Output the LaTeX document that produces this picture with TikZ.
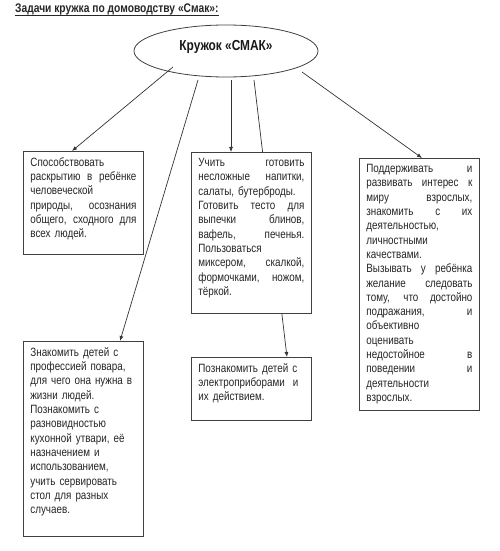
\documentclass[tikz,border=0pt]{standalone}
\usepackage{fontspec}
\setmainfont{Liberation Sans}[FakeStretch=0.82]
\usetikzlibrary{shapes.geometric,arrows.meta,calc,backgrounds}

% one justified line, stretched to the full box width
\newcommand{\jl}[1]{\makebox[\hsize][s]{\spaceskip=0.28em plus 4em #1}}
% empty space under the last line
\newcommand{\tail}[1]{\rule[-#1]{0pt}{#1}}

\tikzset{
  task/.style={draw=black!75, fill=white, line width=0.8bp, anchor=north west,
    text width=106bp, inner xsep=7bp, inner ysep=6bp, align=left,
    text=black!85, font=\fontsize{12bp}{14.3bp}\selectfont},
  link/.style={draw=black!80, line width=0.7bp, -{Latex[length=5bp,width=4bp]}}
}

\begin{document}
\begin{tikzpicture}[x=1bp,y=-1bp]
\useasboundingbox (0,0) rectangle (500,551);

% title
\node[anchor=base west, inner sep=0pt, text=black!85,
  font=\bfseries\fontsize{12.5bp}{14bp}\selectfont] (title) at (15,13)
  {Задачи кружка по домоводству «Смак»:};
\draw[black!85, line width=0.8bp] ($(title.base west)+(0,2)$) -- ($(title.base east)+(0,2)$);

% centre
\node[ellipse, draw=black!75, line width=0.8bp, minimum width=184bp, minimum height=52bp,
  inner sep=0pt, text height=6bp, text depth=6bp, text=black!90,
  font=\bfseries\fontsize{14.5bp}{16bp}\selectfont] (kruzhok) at (226,51) {Кружок «СМАК»};

% tasks
\node[task] (t1) at (23,151) {Способствовать\\
  \jl{раскрытию в ребёнке}\\
  человеческой\\
  \jl{природы, осознания}\\
  \jl{общего, сходного для}\\
  всех людей.\tail{11bp}};

\node[task] (t2) at (191,152) {\jl{Учить готовить}\\
  \jl{несложные напитки,}\\
  салаты, бутерброды.\\
  \jl{Готовить тесто для}\\
  \jl{выпечки блинов,}\\
  \jl{вафель, печенья.}\\
  Пользоваться\\
  \jl{миксером, скалкой,}\\
  \jl{формочками, ножом,}\\
  тёркой.\tail{12bp}};

\node[task] (t3) at (359,158) {\jl{Поддерживать и}\\
  \jl{развивать интерес к}\\
  \jl{миру взрослых,}\\
  \jl{знакомить с их}\\
  деятельностью,\\
  личностными\\
  качествами.\\
  \jl{Вызывать у ребёнка}\\
  \jl{желание следовать}\\
  \jl{тому, что достойно}\\
  \jl{подражания, и}\\
  объективно\\
  оценивать\\
  \jl{недостойное в}\\
  \jl{поведении и}\\
  деятельности\\
  взрослых.};

\node[task] (t4) at (23,341) {Знакомить детей с\\
  профессией повара,\\
  для чего она нужна в\\
  жизни людей.\\
  Познакомить с\\
  разновидностью\\
  кухонной утвари, её\\
  назначением и\\
  использованием,\\
  учить сервировать\\
  стол для разных\\
  случаев.\tail{17bp}};

\node[task] (t5) at (191,357) {Познакомить детей с\\
  электроприборами~ и\\
  их действием.\tail{13.5bp}};

% connectors
\begin{scope}[on background layer]
  \draw[link] ($(kruzhok.center)+(-53,16)$) -- ($(t1.north west)+(49,0)$);
  \draw[link] ($(kruzhok.center)+(-28,29)$) -- ($(t4.north west)+(97,0)$);
  \draw[link] ($(kruzhok.center)+(5,29)$) -- ($(t2.north west)+(40,0)$);
  \draw[link] ($(kruzhok.center)+(28,29)$) -- ($(t5.north west)+(96,0)$);
  \draw[link] ($(kruzhok.center)+(76,21)$) -- ($(t3.north west)+(63,0)$);
\end{scope}
\end{tikzpicture}
\end{document}
